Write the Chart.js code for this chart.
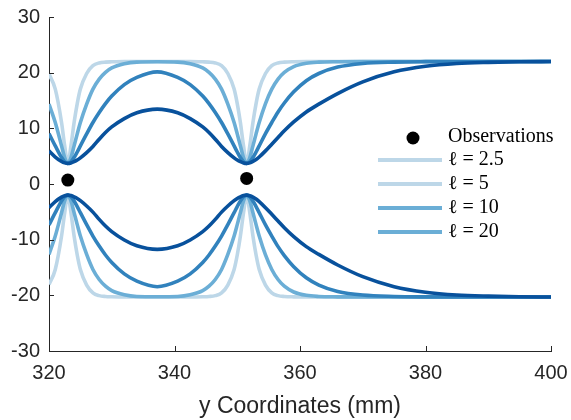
<!DOCTYPE html>
<html>
<head>
<meta charset="utf-8">
<script src="https://cdn.jsdelivr.net/npm/chart.js@4.4.1/dist/chart.umd.min.js"></script>
<style>
  html, body { margin: 0; padding: 0; background: #fff; }
  #wrap { width: 571px; height: 420px; }
</style>
</head>
<body>
<div id="wrap"><canvas id="c" width="571" height="420"></canvas></div>
<script>
// Sample positions along y (mm)
const xGrid = [320, 321, 322, 322.5, 323, 323.5, 324, 324.5, 325, 326,
  327, 328, 329, 330, 332, 334, 337.25, 340.5, 342.5, 344.5,
  345.5, 346.5, 347.5, 348.5, 349.5, 350, 350.5, 351, 351.5, 352,
  352.5, 353, 353.5, 354.5, 355.5, 356.5, 357.5, 359, 361, 363,
  366, 370, 375, 380, 385, 390, 395, 400];

// Observations
const obsX = [323, 351.5];
const obsY = [0.7, 1.0];

// Confidence band bounds for each length scale
const upper2_5 = [19.75, 17.05, 11.05, 6.85, 3.7, 6.85, 11.05, 14.45, 17.05, 19.85,
  21.25, 21.75, 21.9, 21.95, 22.0, 22.0, 22.0, 22.0, 22.0, 21.95,
  21.9, 21.75, 21.25, 19.85, 17.05, 14.45, 11.05, 6.85, 3.7, 6.85,
  11.05, 14.45, 17.05, 19.85, 21.25, 21.75, 21.9, 21.97, 22.0, 22.0,
  22.0, 22.0, 22.0, 22.0, 22.0, 22.0, 22.0, 22.0];
const lower2_5 = [-18.05, -15.35, -9.35, -5.15, -2.0, -5.15, -9.35, -12.75, -15.35, -18.15,
  -19.55, -20.05, -20.2, -20.25, -20.3, -20.3, -20.3, -20.3, -20.3, -20.25,
  -20.2, -20.05, -19.55, -18.15, -15.35, -12.75, -9.35, -5.15, -2.0, -5.15,
  -9.35, -12.75, -15.35, -18.15, -19.55, -20.05, -20.2, -20.27, -20.3, -20.3,
  -20.3, -20.3, -20.3, -20.3, -20.3, -20.3, -20.3, -20.3];

const upper5 = [14.35, 11.05, 6.85, 4.75, 3.7, 4.75, 6.85, 9.0, 11.05, 14.35,
  17.05, 18.85, 20.05, 20.85, 21.6, 21.9, 21.95, 21.9, 21.6, 20.85,
  20.05, 18.85, 17.05, 14.35, 11.05, 9.0, 6.85, 4.75, 3.7, 4.75,
  6.85, 9.0, 11.05, 14.45, 17.05, 18.85, 20.05, 21.1, 21.7, 21.9,
  21.97, 22.0, 22.0, 22.0, 22.0, 22.0, 22.0, 22.0];
const lower5 = [-12.65, -9.35, -5.15, -3.05, -2.0, -3.05, -5.15, -7.3, -9.35, -12.65,
  -15.35, -17.15, -18.35, -19.15, -19.9, -20.2, -20.25, -20.2, -19.9, -19.15,
  -18.35, -17.15, -15.35, -12.65, -9.35, -7.3, -5.15, -3.05, -2.0, -3.05,
  -5.15, -7.3, -9.35, -12.75, -15.35, -17.15, -18.35, -19.4, -20.0, -20.2,
  -20.27, -20.3, -20.3, -20.3, -20.3, -20.3, -20.3, -20.3];

const upper10 = [9.05, 6.85, 4.75, 4.0, 3.7, 4.0, 4.75, 5.75, 6.85, 9.0,
  11.05, 12.85, 14.45, 15.8, 17.85, 19.15, 20.15, 19.15, 17.85, 15.8,
  14.45, 12.85, 11.05, 9.0, 6.85, 5.75, 4.75, 4.0, 3.7, 4.0,
  4.75, 5.75, 6.85, 9.05, 11.05, 12.95, 14.55, 16.55, 18.55, 19.85,
  21.0, 21.65, 21.9, 21.98, 22.0, 22.0, 22.0, 22.0];
const lower10 = [-7.35, -5.15, -3.05, -2.3, -2.0, -2.3, -3.05, -4.05, -5.15, -7.3,
  -9.35, -11.15, -12.75, -14.1, -16.15, -17.45, -18.45, -17.45, -16.15, -14.1,
  -12.75, -11.15, -9.35, -7.3, -5.15, -4.05, -3.05, -2.3, -2.0, -2.3,
  -3.05, -4.05, -5.15, -7.35, -9.35, -11.25, -12.85, -14.85, -16.85, -18.15,
  -19.3, -19.95, -20.2, -20.28, -20.3, -20.3, -20.3, -20.3];

const upper20 = [5.95, 4.85, 4.05, 3.8, 3.7, 3.78, 4.0, 4.3, 4.7, 5.65,
  6.75, 8.05, 9.25, 10.25, 11.75, 12.8, 13.45, 12.8, 11.75, 10.25,
  9.25, 8.05, 6.75, 5.65, 4.7, 4.3, 4.0, 3.78, 3.7, 3.8,
  4.05, 4.4, 4.85, 5.95, 7.15, 8.35, 9.55, 11.15, 12.95, 14.35,
  16.25, 18.35, 20.15, 21.15, 21.65, 21.85, 21.95, 22.0];
const lower20 = [-4.25, -3.15, -2.35, -2.1, -2.0, -2.08, -2.3, -2.6, -3.0, -3.95,
  -5.05, -6.35, -7.55, -8.55, -10.05, -11.1, -11.75, -11.1, -10.05, -8.55,
  -7.55, -6.35, -5.05, -3.95, -3.0, -2.6, -2.3, -2.08, -2.0, -2.1,
  -2.35, -2.7, -3.15, -4.25, -5.45, -6.65, -7.85, -9.45, -11.25, -12.65,
  -14.55, -16.65, -18.45, -19.45, -19.95, -20.15, -20.25, -20.3];

const legendNames = ['Observations', 'ℓ = 2.5', 'ℓ = 5', 'ℓ = 10', 'ℓ = 20'];
const lineColors = ['#bdd7e8', '#6baed6', '#3182bd', '#08519c'];
const legendColors = ['#bdd7e8', '#bdd7e8', '#6baed6', '#6baed6'];
const xTicks = [320, 340, 360, 380, 400];
const yTicks = [-30, -20, -10, 0, 10, 20, 30];

const AXIS = '#262626';
const toPoints = (xs, ys) => xs.map((x, i) => ({ x, y: ys[i] }));

const bands = [
  [upper2_5, lower2_5],
  [upper5, lower5],
  [upper10, lower10],
  [upper20, lower20]
];

const datasets = [{
  label: legendNames[0],
  data: toPoints(obsX, obsY),
  showLine: false,
  pointRadius: 6.5,
  pointBackgroundColor: '#000',
  pointBorderWidth: 0,
  order: 0
}];

bands.forEach(([up, lo], i) => {
  [up, lo].forEach(arr => {
    datasets.push({
      label: legendNames[i + 1],
      data: toPoints(xGrid, arr),
      borderColor: lineColors[i],
      borderWidth: 3.6,
      pointRadius: 0,
      fill: false,
      cubicInterpolationMode: 'monotone',
      borderCapStyle: 'butt',
      order: 4 - i
    });
  });
});

// Tick marks drawn on the inside of the axes
const inwardTicks = {
  id: 'inwardTicks',
  afterDraw(chart) {
    const { ctx, chartArea: a, scales: { x, y } } = chart;
    ctx.save();
    ctx.strokeStyle = AXIS;
    ctx.lineWidth = 1;
    ctx.beginPath();
    xTicks.forEach(v => {
      const px = Math.round(x.getPixelForValue(v)) + 0.5;
      ctx.moveTo(px, a.bottom);
      ctx.lineTo(px, a.bottom - 5);
    });
    yTicks.forEach(v => {
      const py = Math.round(y.getPixelForValue(v)) + 0.5;
      ctx.moveTo(a.left, py);
      ctx.lineTo(a.left + 5, py);
    });
    ctx.stroke();
    ctx.restore();
  }
};

// Legend placed inside the plot, to the right
const sideLegend = {
  id: 'sideLegend',
  afterDraw(chart) {
    const ctx = chart.ctx;
    ctx.save();
    ctx.font = '20px "Liberation Serif", "DejaVu Serif", serif';
    ctx.fillStyle = '#000';
    ctx.textBaseline = 'middle';
    ctx.textAlign = 'left';
    ctx.beginPath();
    ctx.arc(413, 138, 6.5, 0, Math.PI * 2);
    ctx.fill();
    ctx.fillText(legendNames[0], 448, 137);
    legendNames.slice(1).forEach((name, i) => {
      const yy = 160 + i * 24;
      ctx.strokeStyle = legendColors[i];
      ctx.lineWidth = 4;
      ctx.lineCap = 'butt';
      ctx.beginPath();
      ctx.moveTo(378, yy);
      ctx.lineTo(442, yy);
      ctx.stroke();
      ctx.fillText(name, 448, yy);
    });
    ctx.restore();
  }
};

const tickFont = { family: '"Liberation Sans", Arial, sans-serif', size: 20 };
const noOverflow = s => {
  s.paddingLeft = 0; s.paddingRight = 0; s.paddingTop = 0; s.paddingBottom = 0;
};

new Chart(document.getElementById('c'), {
  type: 'line',
  data: { datasets },
  options: {
    responsive: false,
    animation: false,
    layout: { padding: { top: 17, right: 20, left: 0, bottom: 0 } },
    plugins: { legend: { display: false }, tooltip: { enabled: false } },
    scales: {
      x: {
        type: 'linear',
        min: 320, max: 400,
        afterBuildTicks: s => { s.ticks = xTicks.map(v => ({ value: v })); },
        afterFit: s => { s.height = 69; noOverflow(s); },
        grid: { display: true, drawOnChartArea: false, drawTicks: false },
        border: { display: true, color: AXIS, width: 1 },
        ticks: { color: AXIS, font: tickFont, padding: 10, maxRotation: 0 },
        title: {
          display: true,
          text: 'y Coordinates (mm)',
          color: AXIS,
          font: { family: '"Liberation Sans", Arial, sans-serif', size: 23 },
          padding: { top: 0, bottom: 0 }
        }
      },
      y: {
        type: 'linear',
        min: -30, max: 30,
        afterBuildTicks: s => { s.ticks = yTicks.map(v => ({ value: v })); },
        afterFit: s => { s.width = 49; noOverflow(s); },
        grid: { display: true, drawOnChartArea: false, drawTicks: false },
        border: { display: true, color: AXIS, width: 1 },
        ticks: { color: AXIS, font: tickFont, padding: 9 }
      }
    }
  },
  plugins: [inwardTicks, sideLegend]
});
</script>
</body>
</html>
